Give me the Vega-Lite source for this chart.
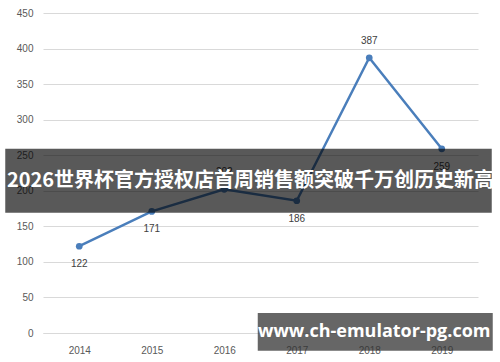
{
  "$schema": "https://vega.github.io/schema/vega-lite/v6.json",
  "width": 435,
  "height": 320,
  "autosize": "none",
  "padding": {"left": 43, "top": 13, "right": 22, "bottom": 29},
  "background": "white",
  "config": {
    "view": {"stroke": null},
    "font": "Liberation Sans",
    "axis": {"labelFont": "Liberation Sans", "labelFontSize": 10, "labelColor": "#595959", "title": null, "ticks": false, "domain": false, "gridColor": "#d9d9d9", "gridWidth": 1, "labelOverlap": false},
    "axisY": {"labelPadding": 10},
    "axisX": {"labelAngle": 0, "grid": false, "labelPadding": 12, "domain": true, "domainColor": "#d9d9d9"}
  },
  "data": {"values": [
    {"year": "2014", "sales": 122},
    {"year": "2015", "sales": 171},
    {"year": "2016", "sales": 202},
    {"year": "2017", "sales": 186},
    {"year": "2018", "sales": 387},
    {"year": "2019", "sales": 259}
  ]},
  "layer": [
    {
      "mark": {"type": "line", "color": "#4a7ebb", "strokeWidth": 2.5, "point": {"filled": true, "color": "#4a7ebb", "size": 45}},
      "encoding": {
        "x": {"field": "year", "type": "ordinal", "scale": {"type": "point", "padding": 0.5}},
        "y": {"field": "sales", "type": "quantitative", "scale": {"domain": [0, 450]}, "axis": {"values": [0, 50, 100, 150, 200, 250, 300, 350, 400, 450]}}
      }
    },
    {
      "transform": [{"filter": "datum.year == '2016' || datum.year == '2018'"}],
      "mark": {"type": "text", "dy": -17, "fontSize": 10, "color": "#404040"},
      "encoding": {
        "x": {"field": "year", "type": "ordinal"},
        "y": {"field": "sales", "type": "quantitative", "axis": {"values": [0, 50, 100, 150, 200, 250, 300, 350, 400, 450]}},
        "text": {"field": "sales"}
      }
    },
    {
      "transform": [{"filter": "datum.year != '2016' && datum.year != '2018'"}],
      "mark": {"type": "text", "dy": 18, "fontSize": 10, "color": "#404040"},
      "encoding": {
        "x": {"field": "year", "type": "ordinal"},
        "y": {"field": "sales", "type": "quantitative", "axis": {"values": [0, 50, 100, 150, 200, 250, 300, 350, 400, 450]}},
        "text": {"field": "sales"}
      }
    },
    {
      "data": {"values": [{"label": "2026世界杯官方授权店首周销售额突破千万创历史新高"}]},
      "mark": {"type": "rect", "color": "#000000", "opacity": 0.65, "xOffset": -74, "x2Offset": 50},
      "encoding": {
        "x": {"datum": "2014", "type": "ordinal"},
        "x2": {"datum": "2019"},
        "y": {"datum": 259, "type": "quantitative", "axis": {"values": [0, 50, 100, 150, 200, 250, 300, 350, 400, 450]}},
        "y2": {"datum": 169}
      }
    },
    {
      "data": {"values": [{"label": "2026世界杯官方授权店首周销售额突破千万创历史新高"}]},
      "mark": {"type": "text", "color": "white", "font": "Noto Sans CJK SC", "fontWeight": "bold", "fontSize": 20, "dx": -10},
      "encoding": {
        "y": {"datum": 214, "type": "quantitative", "axis": {"values": [0, 50, 100, 150, 200, 250, 300, 350, 400, 450]}},
        "text": {"field": "label"}
      }
    },
    {
      "data": {"values": [{"label": "www.ch-emulator-pg.com"}]},
      "mark": {"type": "rect", "color": "#333333", "opacity": 0.75, "xOffset": -39, "x2Offset": 51},
      "encoding": {
        "x": {"datum": "2017", "type": "ordinal"},
        "x2": {"datum": "2019"},
        "y": {"datum": 28, "type": "quantitative", "axis": {"values": [0, 50, 100, 150, 200, 250, 300, 350, 400, 450]}},
        "y2": {"datum": -25}
      }
    },
    {
      "data": {"values": [{"label": "www.ch-emulator-pg.com"}]},
      "mark": {"type": "text", "color": "white", "font": "Open Sans", "fontWeight": "bold", "fontSize": 18, "dx": 5, "baseline": "middle"},
      "encoding": {
        "x": {"datum": "2018", "type": "ordinal"},
        "y": {"datum": 1, "type": "quantitative", "axis": {"values": [0, 50, 100, 150, 200, 250, 300, 350, 400, 450]}},
        "text": {"field": "label"}
      }
    }
  ]
}
